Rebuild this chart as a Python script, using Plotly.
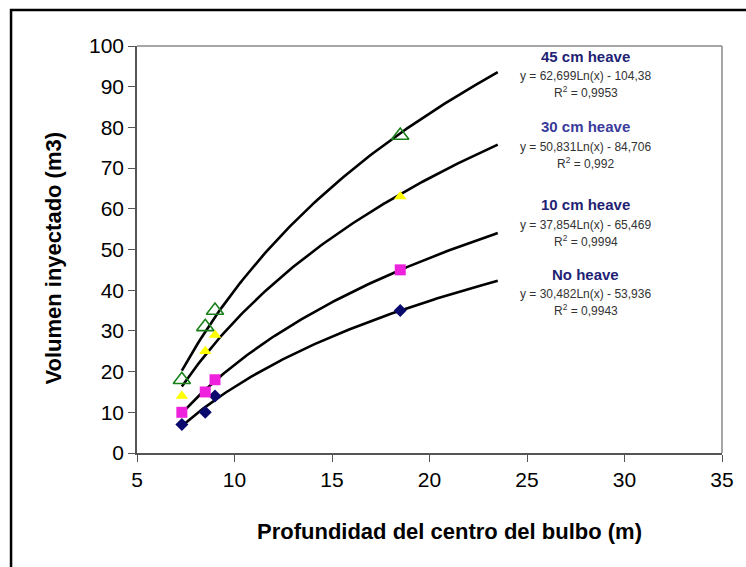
import numpy as np
import plotly.graph_objects as go

# Depth of bulb centre (m) for each injection
depth = [7.3, 8.5, 9.0, 18.5]

# Injected volume (m3) per heave level
vol_no_heave = [7, 10, 14, 35]
vol_10cm = [10, 15, 18, 45]
vol_30cm = [14, 25, 29, 63]
vol_45cm = [18, 31, 35, 78]

# Logarithmic trend coefficients: y = a*Ln(x) + b
fit_labels = ["45 cm heave", "30 cm heave", "10 cm heave", "No heave"]
fit_a = [62.699, 50.831, 37.854, 30.482]
fit_b = [-104.38, -84.706, -65.469, -53.936]
fit_r2 = ["0,9953", "0,992", "0,9994", "0,9943"]
fit_eq = ["y = 62,699Ln(x) - 104,38", "y = 50,831Ln(x) - 84,706",
          "y = 37,854Ln(x) - 65,469", "y = 30,482Ln(x) - 53,936"]
label_colors = ["#1f1f75", "#3b3b9c", "#1f1f75", "#1f1f75"]
label_y = [97.5, 80.1, 61.0, 43.9]

fig = go.Figure()

# Trend curves
xs = np.linspace(7.3, 23.5, 120)
for a, b in zip(fit_a, fit_b):
    fig.add_trace(go.Scatter(x=xs, y=a * np.log(xs) + b, mode="lines",
                             line=dict(color="black", width=2.6),
                             hoverinfo="skip", showlegend=False))

# Measured points
fig.add_trace(go.Scatter(x=depth, y=vol_no_heave, mode="markers", showlegend=False,
                         marker=dict(symbol="diamond", size=10, color="#0a0a6e")))
fig.add_trace(go.Scatter(x=depth, y=vol_10cm, mode="markers", showlegend=False,
                         marker=dict(symbol="square", size=11, color="#ee22dd")))
fig.add_trace(go.Scatter(x=depth, y=vol_30cm, mode="markers", showlegend=False,
                         marker=dict(symbol="triangle-up", size=11, color="#ffff00")))
fig.add_trace(go.Scatter(x=depth, y=vol_45cm, mode="markers", showlegend=False,
                         marker=dict(symbol="triangle-up-open", size=15, color="#1a801a",
                                     line=dict(width=1.6))))

annotations = []
for name, eq, r2, col, y0 in zip(fit_labels, fit_eq, fit_r2, label_colors, label_y):
    annotations.append(dict(x=28.0, y=y0, text=f"<b>{name}</b>", showarrow=False,
                            font=dict(size=15, color=col, family="Arial")))
    annotations.append(dict(x=28.0, y=y0 - 4.9, text=eq, showarrow=False,
                            font=dict(size=12, color="#333333", family="Arial")))
    annotations.append(dict(x=28.0, y=y0 - 8.8, text=f"R<sup>2</sup> = {r2}", showarrow=False,
                            font=dict(size=12, color="#333333", family="Arial")))

# Axis titles
annotations.append(dict(xref="paper", yref="paper", x=0.535, y=-0.192,
                        xanchor="center", yanchor="middle",
                        text="<b>Profundidad del centro del bulbo (m)</b>", showarrow=False,
                        font=dict(size=22, color="black", family="Arial")))
annotations.append(dict(xref="paper", yref="paper", x=-0.142, y=0.48, textangle=-90,
                        xanchor="center", yanchor="middle",
                        text="<b>Volumen inyectado (m3)</b>", showarrow=False,
                        font=dict(size=22, color="black", family="Arial")))

fig.update_layout(
    width=746, height=567,
    margin=dict(l=137, r=19, t=46, b=114),
    paper_bgcolor="white", plot_bgcolor="white",
    font=dict(family="Arial", size=17, color="black"),
    annotations=annotations,
    shapes=[dict(type="rect", xref="paper", yref="paper",
                 x0=-0.2153, y0=-0.4, x1=1.1, y1=1.0885,
                 line=dict(color="black", width=2.5))],
    xaxis=dict(range=[5, 35], tickvals=[5, 10, 15, 20, 25, 30, 35],
               showgrid=False, zeroline=False, showline=True, linecolor="#555555",
               linewidth=1.5, mirror=False, ticks="outside", ticklen=7, tickcolor="#555555",
               tickfont=dict(size=21)),
    yaxis=dict(range=[0, 100], tickvals=list(range(0, 101, 10)),
               showgrid=False, zeroline=False, showline=True, linecolor="#555555",
               linewidth=1.5, ticks="outside", ticklen=7, tickcolor="#555555",
               tickfont=dict(size=21)),
)
# Light frame on top and right of the plot area
fig.add_shape(type="line", xref="paper", yref="paper", x0=0, y0=1, x1=1, y1=1,
              line=dict(color="#888888", width=1.5))
fig.add_shape(type="line", xref="paper", yref="paper", x0=1, y0=0, x1=1, y1=1,
              line=dict(color="#888888", width=1.5))

fig.write_html("out.html")
